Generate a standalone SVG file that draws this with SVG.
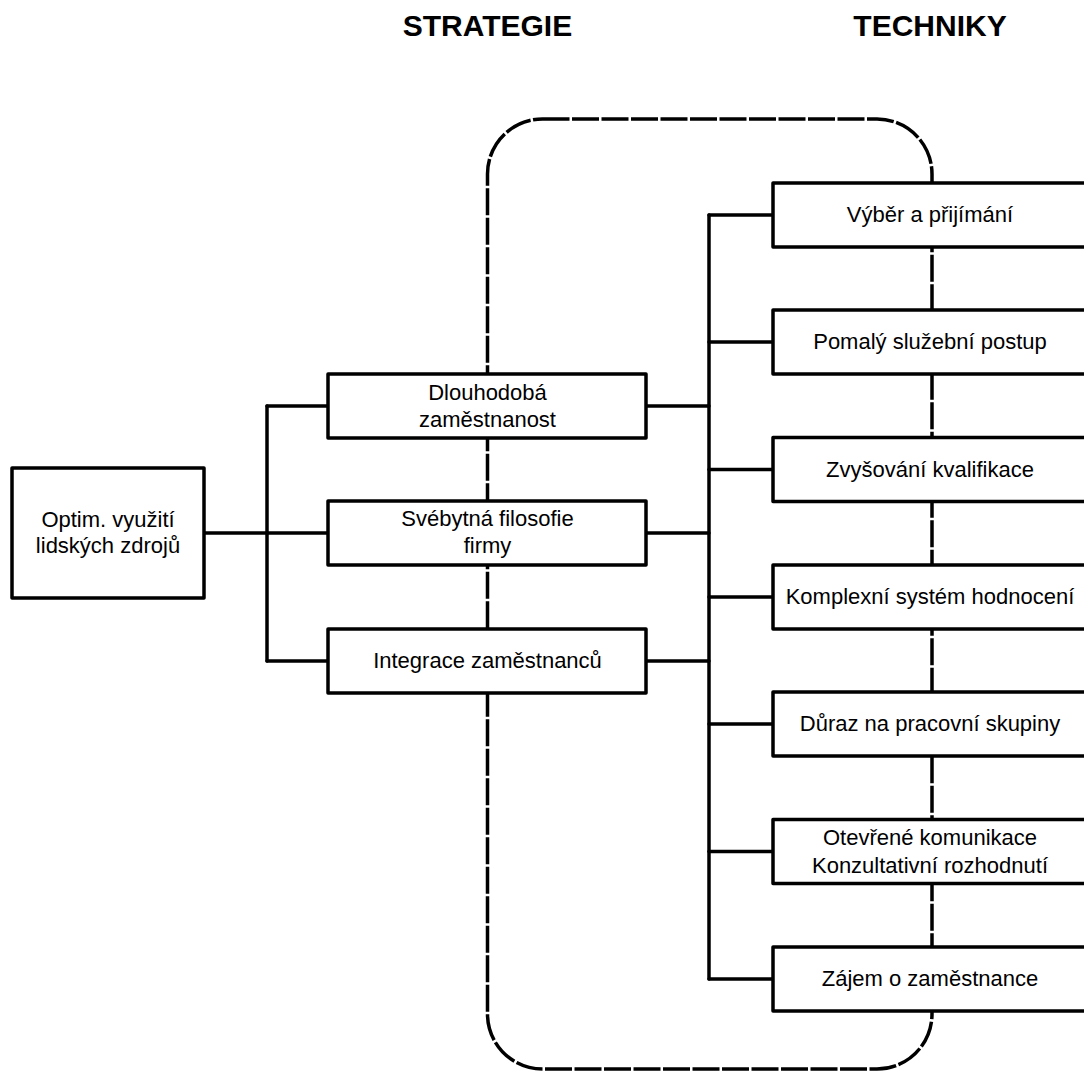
<svg xmlns="http://www.w3.org/2000/svg" width="1084" height="1073" viewBox="0 0 1084 1073">
  <style>
    .box { fill: #ffffff; stroke: #000000; stroke-width: 3.5; stroke-linejoin: round; }
    .wire { fill: none; stroke: #000000; stroke-width: 3.5; stroke-linecap: round; stroke-linejoin: round; }
    .frame { fill: none; stroke: #000000; stroke-width: 3.5; stroke-dasharray: 27 2.5; }
    .lbl { font-family: "Liberation Sans", Arial, sans-serif; font-size: 22px; fill: #000000; text-anchor: middle; }
    .title { font-family: "Liberation Sans", Arial, sans-serif; font-size: 30px; font-weight: bold; fill: #000000; text-anchor: middle; }
  </style>
  <rect width="1084" height="1073" fill="#ffffff"/>

  <!-- column headings -->
  <text class="title" x="487.5" y="36">STRATEGIE</text>
  <text class="title" x="930" y="36">TECHNIKY</text>

  <!-- dashed grouping frame (drawn behind the boxes) -->
  <rect class="frame" x="487.5" y="119" width="444.5" height="950" rx="55" ry="55"/>

  <!-- connectors -->
  <g id="connectors">
    <path class="wire" d="M204 533 H328"/>
    <path class="wire" d="M267 406 V661"/>
    <path class="wire" d="M267 406 H328"/>
    <path class="wire" d="M267 661 H328"/>
    <path class="wire" d="M646 406 H709"/>
    <path class="wire" d="M646 533 H709"/>
    <path class="wire" d="M646 661 H709"/>
    <path class="wire" d="M709 215 V979"/>
    <path class="wire" d="M709 215 H773"/>
    <path class="wire" d="M709 342 H773"/>
    <path class="wire" d="M709 469.5 H773"/>
    <path class="wire" d="M709 597 H773"/>
    <path class="wire" d="M709 724 H773"/>
    <path class="wire" d="M709 851.5 H773"/>
    <path class="wire" d="M709 979 H773"/>
  </g>

  <!-- goal -->
  <g id="goal">
    <rect class="box" x="12" y="468" width="192" height="130"/>
    <text class="lbl" x="108" y="527">Optim. využití</text>
    <text class="lbl" x="108" y="553">lidských zdrojů</text>
  </g>

  <!-- strategies -->
  <g id="s-dlouhodoba">
    <rect class="box" x="328" y="374" width="318" height="64"/>
    <text class="lbl" x="487.5" y="400">Dlouhodobá</text>
    <text class="lbl" x="487.5" y="427">zaměstnanost</text>
  </g>
  <g id="s-filosofie">
    <rect class="box" x="328" y="501" width="318" height="64"/>
    <text class="lbl" x="487.5" y="526">Svébytná filosofie</text>
    <text class="lbl" x="487.5" y="553">firmy</text>
  </g>
  <g id="s-integrace">
    <rect class="box" x="328" y="629" width="318" height="64"/>
    <text class="lbl" x="487.5" y="668">Integrace zaměstnanců</text>
  </g>

  <!-- techniques -->
  <g id="t-vyber">
    <rect class="box" x="773" y="183" width="320" height="64"/>
    <text class="lbl" x="930" y="222">Výběr a přijímání</text>
  </g>
  <g id="t-postup">
    <rect class="box" x="773" y="310" width="320" height="64"/>
    <text class="lbl" x="930" y="349">Pomalý služební postup</text>
  </g>
  <g id="t-kvalifikace">
    <rect class="box" x="773" y="437.5" width="320" height="64"/>
    <text class="lbl" x="930" y="476.5">Zvyšování kvalifikace</text>
  </g>
  <g id="t-hodnoceni">
    <rect class="box" x="773" y="565" width="320" height="64"/>
    <text class="lbl" x="930" y="604">Komplexní systém hodnocení</text>
  </g>
  <g id="t-skupiny">
    <rect class="box" x="773" y="692" width="320" height="64"/>
    <text class="lbl" x="930" y="731">Důraz na pracovní skupiny</text>
  </g>
  <g id="t-komunikace">
    <rect class="box" x="773" y="819.5" width="320" height="64"/>
    <text class="lbl" x="930" y="845">Otevřené komunikace</text>
    <text class="lbl" x="930" y="873">Konzultativní rozhodnutí</text>
  </g>
  <g id="t-zajem">
    <rect class="box" x="773" y="947" width="320" height="64"/>
    <text class="lbl" x="930" y="986">Zájem o zaměstnance</text>
  </g>
</svg>
